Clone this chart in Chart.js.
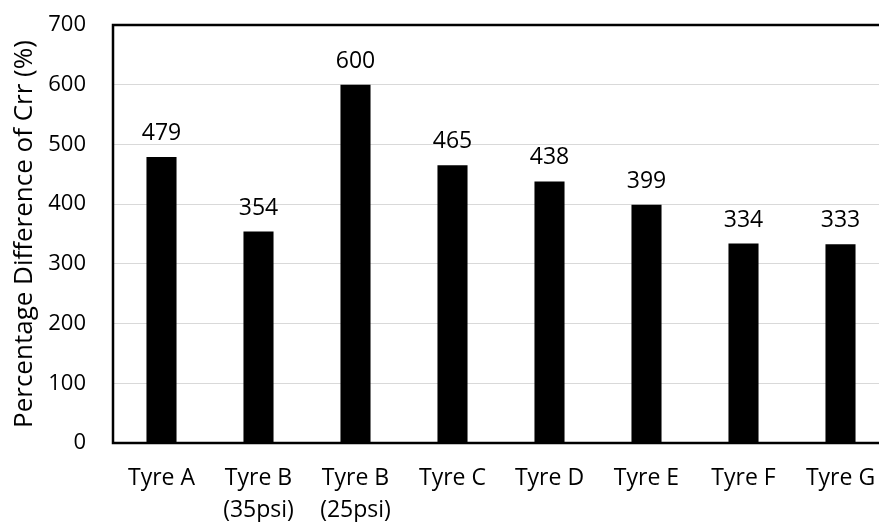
<!DOCTYPE html>
<html>
<head>
<meta charset="utf-8">
<script src="https://cdn.jsdelivr.net/npm/chart.js@4.4.0/dist/chart.umd.min.js"></script>
<style>
  html, body { margin: 0; padding: 0; background: #fff; overflow: hidden; }
  #wrap { width: 900px; height: 522px; }
</style>
</head>
<body>
<div id="wrap"><canvas id="crr"></canvas></div>
<script>
// values
const tyres = [
  ['Tyre A'], ['Tyre B', '(35psi)'], ['Tyre B', '(25psi)'], ['Tyre C'],
  ['Tyre D'], ['Tyre E'], ['Tyre F'], ['Tyre G']
];
const crrDiff = [479, 354, 600, 465, 438, 399, 334, 333];
const yTicks = [0, 100, 200, 300, 400, 500, 600, 700];

const fontFamily = "'Open Sans', 'Liberation Sans', sans-serif";

// frame round the plot area (Excel style box)
const frame = {
  id: 'frame',
  afterDatasetsDraw(chart) {
    const { ctx, chartArea: a } = chart;
    ctx.save();
    ctx.strokeStyle = '#000';
    ctx.lineWidth = 2.5;
    ctx.strokeRect(a.left, a.top, a.right - a.left, a.bottom - a.top);
    ctx.restore();
  }
};

// value labels above each bar
const valueLabels = {
  id: 'valueLabels',
  afterDatasetsDraw(chart) {
    const { ctx } = chart;
    const meta = chart.getDatasetMeta(0);
    ctx.save();
    ctx.font = '23px ' + fontFamily;
    ctx.fillStyle = '#000';
    ctx.textAlign = 'center';
    ctx.textBaseline = 'alphabetic';
    meta.data.forEach((bar, i) => {
      ctx.fillText(crrDiff[i], bar.x, bar.y - 17);
    });
    ctx.restore();
  }
};

new Chart(document.getElementById('crr'), {
  type: 'bar',
  data: {
    labels: tyres,
    datasets: [{
      data: crrDiff,
      backgroundColor: '#000',
      borderWidth: 0,
      categoryPercentage: 1,
      barPercentage: 0.31
    }]
  },
  options: {
    responsive: true,
    maintainAspectRatio: false,
    animation: false,
    layout: { padding: { top: 0, right: 11, left: 4, bottom: 0 } },
    plugins: { legend: { display: false }, tooltip: { enabled: false } },
    scales: {
      x: {
        afterFit(scale) { scale.height = 79; },
        grid: { display: false },
        border: { display: false },
        ticks: {
          color: '#000',
          font: { family: fontFamily, size: 23, lineHeight: 1.4 },
          maxRotation: 0,
          padding: 11
        }
      },
      y: {
        min: 0,
        max: 700,
        afterBuildTicks(scale) {
          scale.ticks = yTicks.map(v => ({ value: v }));
        },
        afterFit(scale) {
          scale.width = 109;
          scale.paddingTop = 25;
          scale.paddingBottom = 0;
        },
        grid: { color: '#d9d9d9', lineWidth: 1, drawTicks: false },
        border: { display: false },
        ticks: {
          color: '#000',
          font: { family: fontFamily, size: 22 },
          padding: 27
        },
        title: {
          display: true,
          text: 'Percentage Difference of Crr (%)',
          color: '#000',
          font: { family: fontFamily, size: 26 },
          padding: { top: 5, bottom: 0 }
        }
      }
    }
  },
  plugins: [frame, valueLabels]
});
</script>
</body>
</html>
